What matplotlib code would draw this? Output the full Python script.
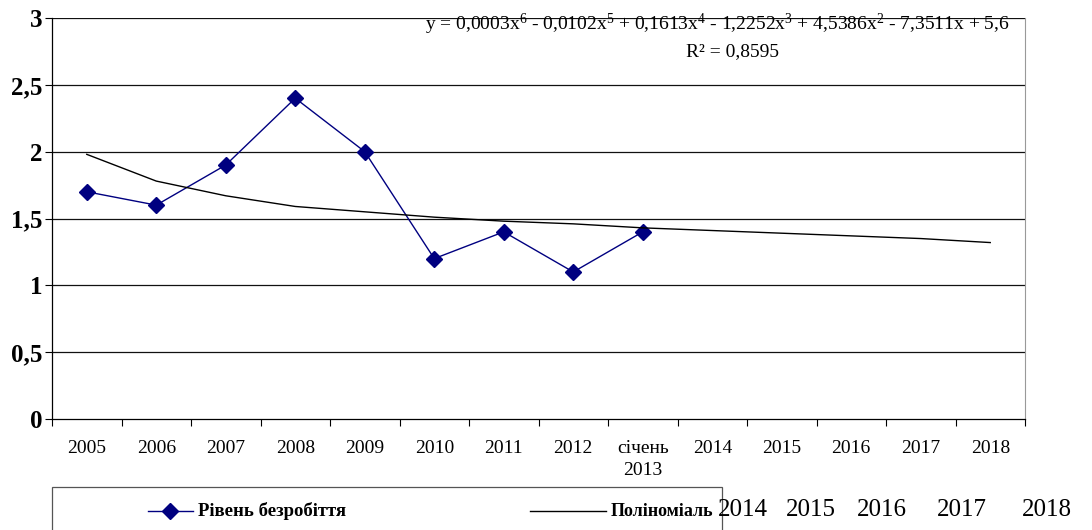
import matplotlib
matplotlib.use("Agg")
import matplotlib.pyplot as plt
from matplotlib.lines import Line2D
from matplotlib.patches import Rectangle

plt.rcParams['font.family'] = ['Liberation Serif', 'DejaVu Serif']
plt.rcParams['mathtext.fontset'] = 'custom'
plt.rcParams['mathtext.rm'] = 'Liberation Serif'
plt.rcParams['mathtext.it'] = 'Liberation Serif:italic'

categories = ['2005', '2006', '2007', '2008', '2009', '2010', '2011', '2012',
              'січень\n2013', '2014', '2015', '2016', '2017', '2018']
unemployment = [1.7, 1.6, 1.9, 2.4, 2.0, 1.2, 1.4, 1.1, 1.4]
trend = [1.98, 1.78, 1.67, 1.59, 1.55, 1.51, 1.48, 1.46, 1.43, 1.41, 1.39, 1.37, 1.35, 1.32]
y_ticks = [0, 0.5, 1, 1.5, 2, 2.5, 3]
y_labels = ['0', '0,5', '1', '1,5', '2', '2,5', '3']
extra_years = ['2014', '2015', '2016', '2017', '2018']
extra_x = [743, 811, 882, 962, 1047]
equation = (r'y = 0,0003x$^{6}$ - 0,0102x$^{5}$ + 0,1613x$^{4}$ - 1,2252x$^{3}$'
            r' + 4,5386x$^{2}$ - 7,3511x + 5,6')
r2_text = 'R² = 0,8595'

W, H = 1092, 530
fig = plt.figure(figsize=(W / 100, H / 100), dpi=100)
ax = fig.add_axes([52 / W, 1 - 419 / H, (1025 - 52) / W, (419 - 18) / H])

xs = list(range(1, len(categories) + 1))
ax.plot(xs[:len(unemployment)], unemployment, color='#000080', lw=1,
        marker='D', markersize=8, markerfacecolor='#000080', markeredgecolor='#000080')
ax.plot(xs, trend, color='black', lw=1)

ax.set_xlim(0.5, len(categories) + 0.5)
ax.set_ylim(0, 3)
ax.set_yticks(y_ticks)
ax.set_yticklabels(y_labels, fontweight='bold', fontsize=18)
for y in y_ticks[1:]:
    ax.axhline(y, color='#111111', lw=0.9, zorder=0)

ax.set_xticks(xs)
ax.set_xticklabels(categories, fontsize=14, linespacing=1.42)
ax.set_xticks([x + 0.5 for x in [0] + xs], minor=True)
ax.tick_params(axis='x', which='major', length=0, pad=15)
ax.tick_params(axis='x', which='minor', length=5, direction='out', width=0.8)
ax.tick_params(axis='y', length=5, direction='out', width=0.8, pad=2)

ax.spines['top'].set_visible(False)
ax.spines['right'].set_color('#999999')
ax.spines['left'].set_color('black')
ax.spines['bottom'].set_color('black')
ax.spines['left'].set_linewidth(0.9)
ax.spines['bottom'].set_linewidth(0.9)

fig.text(1010 / W, 1 - 24 / H, equation, ha='right', va='center', fontsize=14)
fig.text(733 / W, 1 - 52 / H, r2_text, ha='center', va='center', fontsize=14)

# legend box
fig.patches.append(Rectangle((52 / W, -0.1), (722 - 52) / W, (0.1 + 1 - 487 / H),
                             transform=fig.transFigure, fill=False,
                             edgecolor='#555555', lw=0.9))
ly = 1 - 511 / H
fig.add_artist(Line2D([148 / W, 193 / W], [ly, ly], transform=fig.transFigure,
                      color='#000080', lw=1))
fig.add_artist(Line2D([170 / W], [ly], transform=fig.transFigure, color='#000080',
                      marker='D', markersize=8))
fig.text(198 / W, ly, 'Рівень безробіття', ha='left', va='center',
         fontsize=13.5, fontweight='bold')
fig.add_artist(Line2D([530 / W, 606 / W], [ly, ly], transform=fig.transFigure,
                      color='black', lw=1))
fig.text(611 / W, ly, 'Поліноміаль', ha='left', va='center',
         fontsize=13, fontweight='bold')
for x, t in zip(extra_x, extra_years):
    fig.text(x / W, 1 - 510 / H, t, ha='center', va='center', fontsize=18)

fig.savefig('out.png', dpi=100)
